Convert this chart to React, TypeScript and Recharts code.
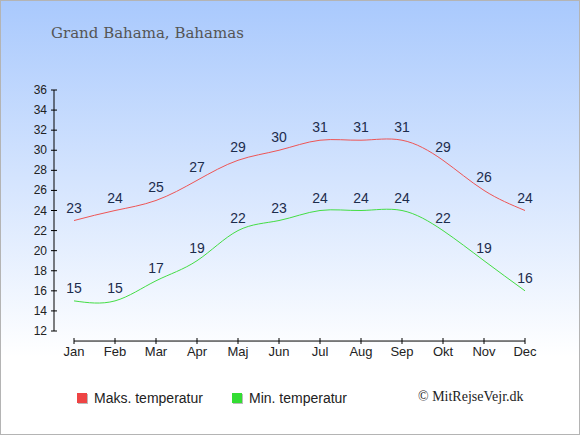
import { LineChart, Line, XAxis, YAxis, ReferenceLine, LabelList } from "recharts";

document.body.style.margin = "0";

const months = ["Jan", "Feb", "Mar", "Apr", "Maj", "Jun", "Jul", "Aug", "Sep", "Okt", "Nov", "Dec"];
const maxTemp = [23, 24, 25, 27, 29, 30, 31, 31, 31, 29, 26, 24];
const minTemp = [15, 15, 17, 19, 22, 23, 24, 24, 24, 22, 19, 16];
const yTicks = [12, 14, 16, 18, 20, 22, 24, 26, 28, 30, 32, 34, 36];

const data = months.map((m, i) => ({ month: m, max: maxTemp[i], min: minTemp[i] }));

const sans = "Arial, 'Liberation Sans', sans-serif";

const XTick = ({ x, y, payload }: any) => (
  <g>
    <line x1={x} x2={x} y1={y + 7} y2={y + 13} stroke="#000" />
    <text x={x} y={y + 25} textAnchor="middle" fontSize={13} fontFamily={sans} fill="#222">
      {payload.value}
    </text>
  </g>
);

const YTick = ({ x, y, payload }: any) => (
  <g>
    <line x1={x - 3} x2={x + 3} y1={y} y2={y} stroke="#000" />
    <text x={x - 7} y={y + 4} textAnchor="end" fontSize={12} fontFamily={sans} fill="#222">
      {payload.value}
    </text>
  </g>
);

const legendItems = [
  { label: "Maks. temperatur", color: "#ee4444" },
  { label: "Min. temperatur", color: "#33dd33" },
];

export default function App() {
  return (
    <div
      style={{
        position: "relative",
        width: 580,
        height: 435,
        background: "linear-gradient(to bottom, #a9c9fd 0%, #ffffff 82%)",
      }}
    >
      <div
        style={{
          position: "absolute",
          left: 51,
          top: 24,
          fontFamily: "'DejaVu Serif', serif",
          fontSize: 15,
          color: "#555",
        }}
      >
        Grand Bahama, Bahamas
      </div>
      <div
        style={{
          position: "absolute",
          left: 77,
          top: 390,
          display: "flex",
          fontFamily: sans,
          fontSize: 14,
          color: "#222",
        }}
      >
        {legendItems.map((it, i) => (
          <div key={it.label} style={{ display: "flex", alignItems: "center", width: i === 0 ? 155 : "auto" }}>
            <span
              style={{
                width: 10,
                height: 10,
                background: it.color,
                boxShadow: "1px 1px 0 #bbb",
                marginRight: 7,
              }}
            />
            {it.label}
          </div>
        ))}
      </div>
      <div
        style={{
          position: "absolute",
          left: 418,
          top: 389,
          fontFamily: "'Liberation Serif', 'Times New Roman', serif",
          fontSize: 14,
          color: "#222",
        }}
      >
        © MitRejseVejr.dk
      </div>
      <LineChart width={580} height={435} data={data} margin={{ top: 90, right: 55, bottom: 74, left: 14 }}>
        <XAxis
          dataKey="month"
          padding={{ left: 20, right: 0 }}
          axisLine={false}
          tickLine={false}
          tickSize={0}
          tickMargin={0}
          height={30}
          interval={0}
          tick={<XTick />}
        />
        <YAxis
          domain={[12, 36]}
          ticks={yTicks}
          width={40}
          axisLine={{ stroke: "#000" }}
          tickLine={false}
          tickSize={0}
          tickMargin={0}
          interval={0}
          tick={<YTick />}
        />
        <ReferenceLine
          segment={[
            { x: "Jan", y: 11 },
            { x: "Dec", y: 11 },
          ]}
          stroke="#000"
          ifOverflow="visible"
        />
        <Line type="natural" dataKey="max" stroke="#ee5555" strokeWidth={1} dot={false} isAnimationActive={false}>
          <LabelList dataKey="max" position="top" offset={8} fontSize={14} fontFamily={sans} fill="#1c2c4c" />
        </Line>
        <Line type="natural" dataKey="min" stroke="#44dd44" strokeWidth={1} dot={false} isAnimationActive={false}>
          <LabelList dataKey="min" position="top" offset={8} fontSize={14} fontFamily={sans} fill="#1c2c4c" />
        </Line>
      </LineChart>
      <div
        style={{
          position: "absolute",
          inset: 0,
          border: "1px solid #b4b4b4",
          pointerEvents: "none",
        }}
      />
    </div>
  );
}
